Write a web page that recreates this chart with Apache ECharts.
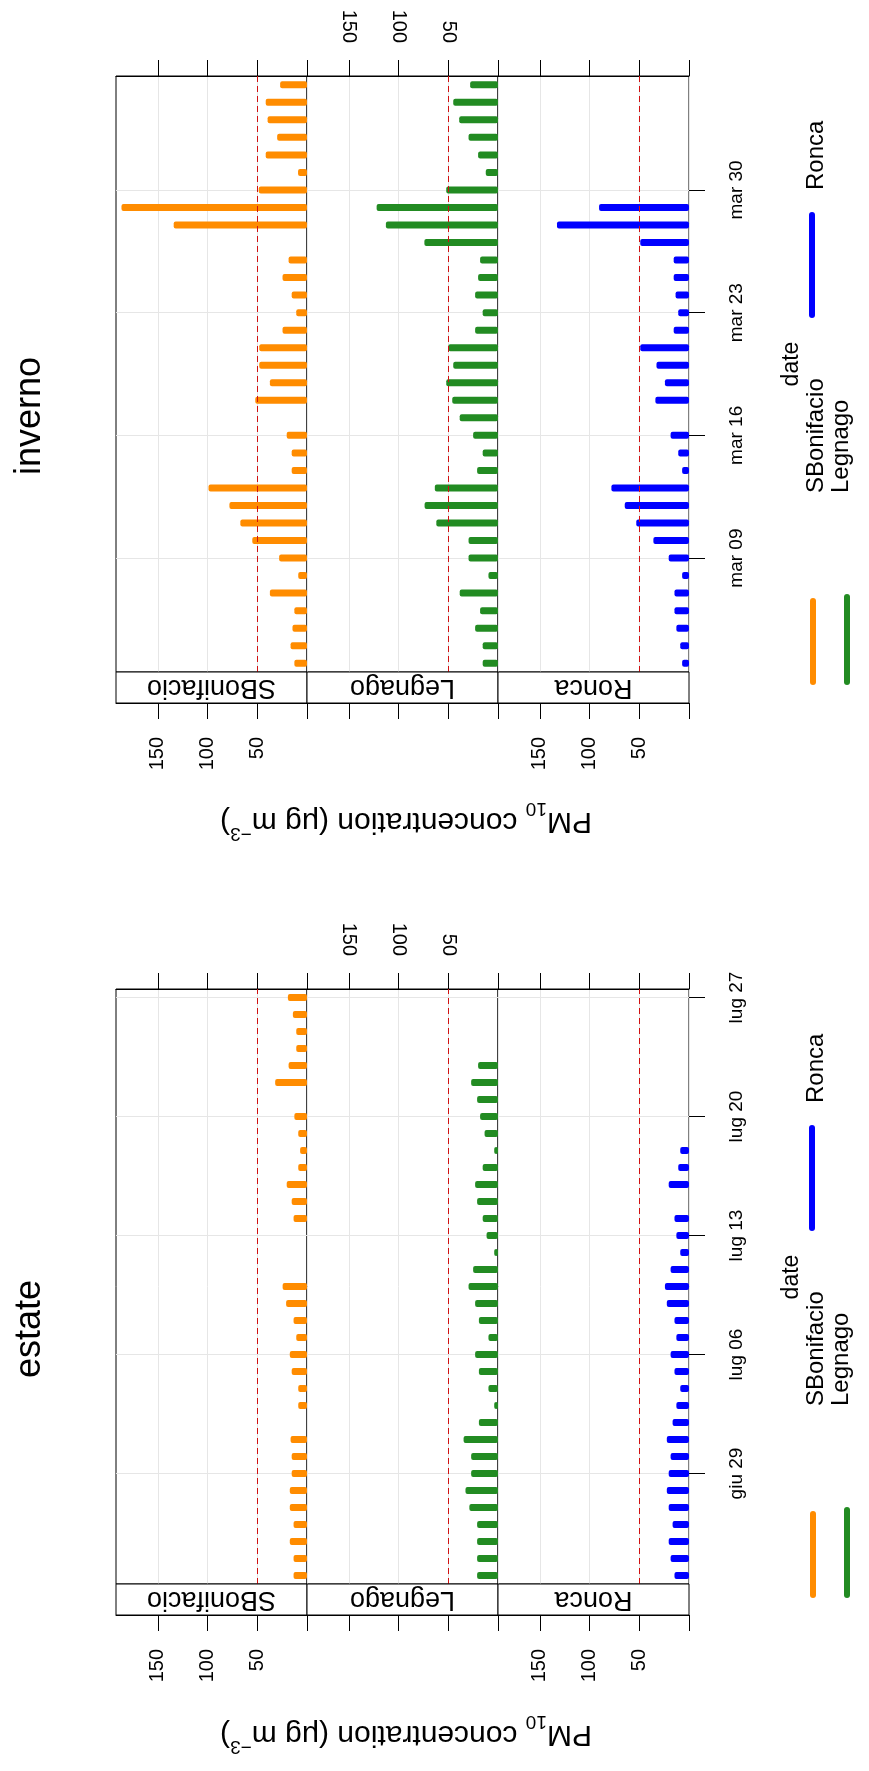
<!DOCTYPE html>
<html>
<head>
<meta charset="utf-8">
<script src="https://cdn.jsdelivr.net/npm/echarts@6/dist/echarts.min.js"></script>
<style>
  html, body { margin: 0; padding: 0; background: #fff; }
  #chart { width: 869px; height: 1771px; }
</style>
</head>
<body>
<div id="chart"></div>
<script>
// stations and colours
var stations = ['SBonifacio', 'Legnago', 'Ronca'];
var stationColors = ['#FF8C00', '#228B22', '#0000FF'];

// inverno: one value per day, mar 03 .. apr 05
var invernoDays = ['mar 03','mar 04','mar 05','mar 06','mar 07','mar 08','mar 09','mar 10','mar 11','mar 12',
  'mar 13','mar 14','mar 15','mar 16','mar 17','mar 18','mar 19','mar 20','mar 21','mar 22','mar 23','mar 24',
  'mar 25','mar 26','mar 27','mar 28','mar 29','mar 30','mar 31','apr 01','apr 02','apr 03','apr 04','apr 05'];
var invernoTicks = ['mar 09', 'mar 16', 'mar 23', 'mar 30'];
var invernoSBonifacio = [12.7,16.5,14.6,12.7,37.3,8.8,28,55,67,78,99,15.4,15.4,20.4,null,52,37.3,48,48,24.6,
  10.8,15.4,24.6,18.5,null,134,186.5,48.5,9,41.5,30,39.6,41.5,27];
var invernoLegnago = [15.4,15.4,23,18,38.5,9.6,29.6,29.6,62,73.8,63.5,21,15.4,25,38.5,46,52,45,50,23,
  15.4,23,20,18,74,112.7,122,52,12.3,20,29.6,39,45,28];
var invernoRonca = [6.9,8.8,12.7,14.6,14.6,6.9,20.4,35.8,53,64.6,78,6.9,10.8,18.5,null,33.8,24.2,32.7,49,15.4,
  10.8,13.5,15.4,15.4,49,132.7,90.4,null,null,null,null,null,null,null];

// estate: giu 23 .. lug 27
var estateDays = ['giu 23','giu 24','giu 25','giu 26','giu 27','giu 28','giu 29','giu 30','lug 01','lug 02',
  'lug 03','lug 04','lug 05','lug 06','lug 07','lug 08','lug 09','lug 10','lug 11','lug 12','lug 13','lug 14',
  'lug 15','lug 16','lug 17','lug 18','lug 19','lug 20','lug 21','lug 22','lug 23','lug 24','lug 25','lug 26','lug 27'];
var estateTicks = ['giu 29', 'lug 06', 'lug 13', 'lug 20', 'lug 27'];
var estateSBonifacio = [13.5,13.5,17.3,13.5,17.3,17.3,15.4,15.4,16.5,null,8.8,8.8,15.4,17.3,10.8,13.5,21,24.5,
  null,null,null,13.5,15.4,20.4,8.8,6.9,8.8,12.7,null,32,18.5,10.8,10.8,14.2,19.2];
var estateLegnago = [21,21,21,21,28.8,32.7,27,27,34.6,19.2,3.8,9.6,19.2,23,9.6,19.2,23,29.6,25,3.8,11.5,15.4,
  21,23,15.4,3.8,13.5,18,21,27,20,null,null,null,null];
var estateRonca = [14.6,18.5,20.4,16.5,20.4,22.3,20.4,18.5,22.3,16.5,12.7,8.8,14.6,18.5,12.7,14.6,22.3,24.2,
  18.5,8.8,12.7,14.6,null,20.4,10.8,8.8,null,null,null,null,null,null,null,null,null];

var valueTicks = [0, 50, 100, 150];
var valueLabels = [50, 100, 150];
var limitValue = 50;
var valueMax = 192;

var seasons = [
  { name: 'inverno', days: invernoDays, ticks: invernoTicks, values: [invernoSBonifacio, invernoLegnago, invernoRonca] },
  { name: 'estate', days: estateDays, ticks: estateTicks, values: [estateSBonifacio, estateLegnago, estateRonca] }
];

// layout
var FONT = "'Liberation Sans', Arial, Helvetica, sans-serif";
var frameLeft = 116, panelW = 191, stripH = 31;
var seasonTop = [76, 989], seasonH = [596, 595], shift = 913;

var grids = [], xAxes = [], yAxes = [], series = [], graphics = [];

seasons.forEach(function (season, s) {
  var top = seasonTop[s], h = seasonH[s];
  var isTick = function (i, v) { return season.ticks.indexOf(v) >= 0; };
  stations.forEach(function (st, p) {
    var g = s * 3 + p;
    var left = frameLeft + p * panelW;
    grids.push({ left: left, top: top, width: panelW, height: h, show: true,
      borderColor: '#000', borderWidth: 1, backgroundColor: 'transparent' });

    // bottom value axis (below strip)
    xAxes.push({
      gridIndex: g, type: 'value', position: 'bottom', offset: stripH, inverse: true,
      min: 0, max: valueMax, interval: 50,
      axisLine: { show: true, onZero: false, lineStyle: { color: '#000', width: 1 } },
      axisTick: { show: true, length: 16, customValues: valueTicks, lineStyle: { color: '#000' } },
      axisLabel: { show: p !== 1, rotate: 90, margin: 34, customValues: valueLabels,
        fontSize: 20, color: '#000', fontFamily: FONT,
        formatter: function (v) { return valueLabels.indexOf(v) >= 0 ? String(v) : ''; } },
      splitLine: { show: false }
    });
    // top value axis
    xAxes.push({
      gridIndex: g, type: 'value', position: 'top', inverse: true,
      min: 0, max: valueMax, interval: 50,
      axisLine: { show: true, onZero: false, lineStyle: { color: '#000', width: 1 } },
      axisTick: { show: true, length: 16, customValues: valueTicks, lineStyle: { color: '#000' } },
      axisLabel: { show: p === 1, rotate: 90, margin: 33, customValues: valueLabels,
        fontSize: 20, color: '#000', fontFamily: FONT,
        formatter: function (v) { return valueLabels.indexOf(v) >= 0 ? String(v) : ''; } },
      splitLine: { show: true, lineStyle: { color: '#e6e6e6', width: 1 } }
    });
    // date axis
    yAxes.push({
      gridIndex: g, type: 'category', data: season.days, position: p === 2 ? 'right' : 'left',
      axisLine: { show: false },
      axisTick: { show: p !== 1, length: 16, alignWithLabel: true, interval: isTick, lineStyle: { color: '#000' } },
      axisLabel: { show: p === 2, rotate: 90, margin: 38, interval: isTick,
        fontSize: 19, color: '#000', fontFamily: FONT },
      splitLine: { show: false }
    });

    series.push({
      type: 'bar', name: st, xAxisIndex: 2 * g, yAxisIndex: g,
      data: season.values[p], barWidth: 7,
      itemStyle: { color: stationColors[p], borderRadius: 2 },
      markLine: {
        silent: true, z: 1, symbol: ['none', 'none'], label: { show: false },
        lineStyle: { color: '#e6e6e6', type: 'solid', width: 1 },
        data: season.ticks.map(function (t) { return { yAxis: t }; })
      }
    });
    series.push({
      type: 'line', xAxisIndex: 2 * g, yAxisIndex: g, data: [],
      markLine: {
        silent: true, z: 6, symbol: ['none', 'none'], label: { show: false },
        lineStyle: { color: '#d01010', type: [6, 4], width: 1 },
        data: [{ xAxis: limitValue }]
      }
    });

    // strip
    graphics.push({ type: 'rect', z: 10,
      shape: { x: left, y: top + h, width: panelW, height: stripH },
      style: { fill: '#fff', stroke: '#000', lineWidth: 1 } });
    graphics.push({ type: 'text', z: 11, x: left + panelW / 2, y: top + h + stripH / 2, rotation: Math.PI,
      style: { text: st, fontSize: 27, fontFamily: FONT, fill: '#000', align: 'center', verticalAlign: 'middle' } });
  });

  var dy = s * shift;
  // title
  graphics.push({ type: 'text', x: 30, y: 416 + dy, rotation: Math.PI / 2,
    style: { text: season.name, fontSize: 36, fontFamily: FONT, fill: '#000', align: 'center', verticalAlign: 'middle' } });
  // y label
  graphics.push({ type: 'text', x: 406, y: 821 + dy, rotation: Math.PI,
    style: {
      text: '{n|PM}{s|10}{n| concentration (μg m}{p|−3}{n|)}',
      align: 'center', verticalAlign: 'middle', fill: '#000', fontFamily: FONT,
      rich: {
        n: { fontSize: 30, fontFamily: FONT, lineHeight: 44, verticalAlign: 'middle' },
        s: { fontSize: 19, fontFamily: FONT, lineHeight: 44, verticalAlign: 'bottom' },
        p: { fontSize: 19, fontFamily: FONT, lineHeight: 44, verticalAlign: 'top' }
      }
    } });
  // x label
  graphics.push({ type: 'text', x: 792, y: 364 + dy, rotation: Math.PI / 2,
    style: { text: 'date', fontSize: 23, fontFamily: FONT, fill: '#000', align: 'center', verticalAlign: 'middle' } });
  // key
  graphics.push({ type: 'line', shape: { x1: 813, y1: 601 + dy, x2: 813, y2: 682 + dy },
    style: { stroke: stationColors[0], lineWidth: 6, lineCap: 'round' } });
  graphics.push({ type: 'line', shape: { x1: 847, y1: 597 + dy, x2: 847, y2: 682 + dy },
    style: { stroke: stationColors[1], lineWidth: 6, lineCap: 'round' } });
  graphics.push({ type: 'line', shape: { x1: 812, y1: 215 + dy, x2: 812, y2: 315 + dy },
    style: { stroke: stationColors[2], lineWidth: 6, lineCap: 'round' } });
  graphics.push({ type: 'text', x: 816, y: 493 + dy, rotation: Math.PI / 2,
    style: { text: stations[0], fontSize: 24, fontFamily: FONT, fill: '#000', align: 'left', verticalAlign: 'middle' } });
  graphics.push({ type: 'text', x: 841, y: 493 + dy, rotation: Math.PI / 2,
    style: { text: stations[1], fontSize: 24, fontFamily: FONT, fill: '#000', align: 'left', verticalAlign: 'middle' } });
  graphics.push({ type: 'text', x: 816, y: 190 + dy, rotation: Math.PI / 2,
    style: { text: stations[2], fontSize: 24, fontFamily: FONT, fill: '#000', align: 'left', verticalAlign: 'middle' } });
});

var myChart = echarts.init(document.getElementById('chart'), null, { renderer: 'canvas' });
myChart.setOption({
  animation: false,
  backgroundColor: '#fff',
  grid: grids,
  xAxis: xAxes,
  yAxis: yAxes,
  series: series,
  graphic: graphics
});
</script>
</body>
</html>
